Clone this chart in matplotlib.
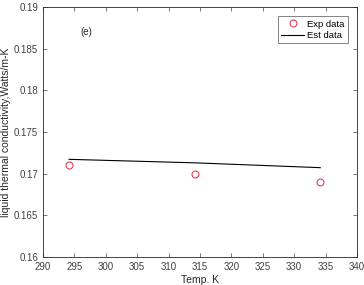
import numpy as np
from matplotlib import pyplot as plt

plt.rcParams['font.family'] = ['Liberation Sans', 'DejaVu Sans']

temp = [294.15, 314.15, 334.15]
exp_k = [0.1710, 0.1700, 0.1690]
est_k = [0.17172, 0.17130, 0.17072]

fig = plt.figure(figsize=(3.64, 2.85), dpi=100)
ax = fig.add_axes([43/364, 1 - 257/285, 314/364, 250/285])

ax.plot(temp, exp_k, 'o', mfc='none', mec='#e0405a', ms=5, mew=0.8, label='Exp data')
ax.plot(temp, est_k, '-', color='black', lw=0.8, label='Est data')

ax.set_xlim(290, 340)
ax.set_ylim(0.16, 0.19)
ax.set_xticks(np.arange(290, 341, 5))
ax.set_yticks(np.arange(0.16, 0.1901, 0.005))
ax.set_yticklabels(['0.16', '0.165', '0.17', '0.175', '0.18', '0.185', '0.19'])
ax.tick_params(direction='in', top=True, right=True, labelsize=7,
               colors='#404040', length=3, width=0.5)
for s in ax.spines.values():
    s.set_linewidth(0.6)
    s.set_color('#262626')

ax.set_xlabel('Temp. K', fontsize=7.5, labelpad=2, color='#262626')
ax.set_ylabel('liquid thermal conductivity,Watts/m-K', fontsize=7.5, labelpad=2, color='#262626')
ax.text(296, 0.1866, '(e)', fontsize=7, color='#262626')

leg = ax.legend(loc='upper right', fontsize=6.8, frameon=True, fancybox=False,
                edgecolor='#262626', handlelength=2.4, borderpad=0.35,
                labelspacing=0.25, handletextpad=0.3, borderaxespad=1.0)
leg.get_frame().set_linewidth(0.5)

plt.savefig('out.png')
